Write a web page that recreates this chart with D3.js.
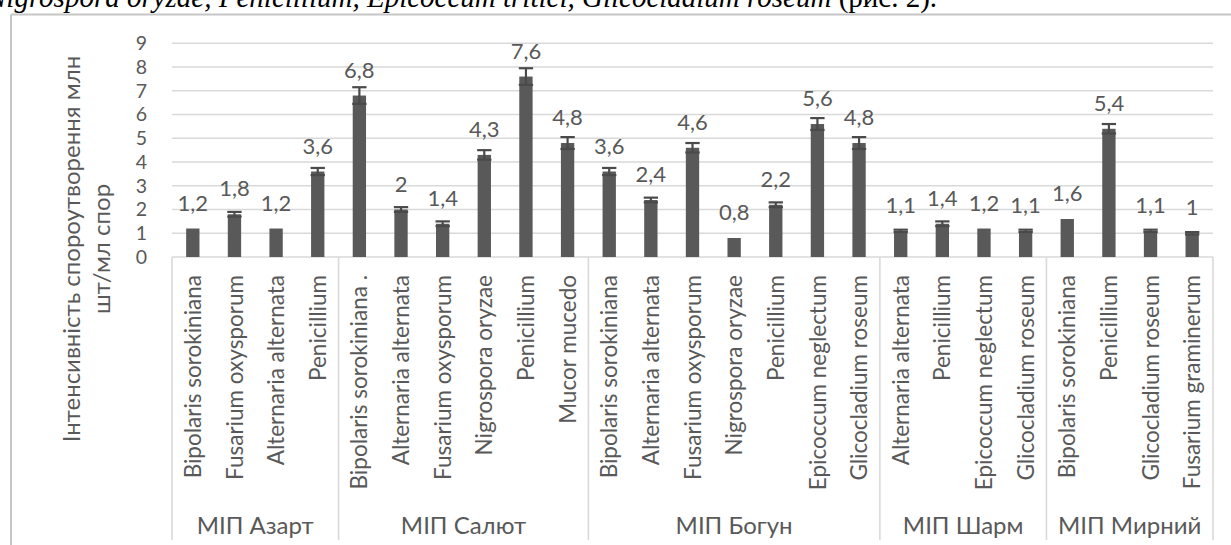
<!DOCTYPE html>
<html>
<head>
<meta charset="utf-8">
<script src="https://cdn.jsdelivr.net/npm/d3@7/dist/d3.min.js"></script>
<style>
  html, body { margin: 0; padding: 0; background: #fff; }
  svg { display: block; }
</style>
</head>
<body>
<svg id="chart" width="1231" height="545"></svg>
<script>
// ---- data ----
const groups = ["МІП Азарт", "МІП Салют", "МІП Богун", "МІП Шарм", "МІП Мирний"];
const groupSizes = [4, 6, 7, 4, 4];
const categories = [
  "Bipolaris sorokiniana", "Fusarium oxysporum", "Alternaria alternata", "Penicillium",
  "Bipolaris sorokiniana .", "Alternaria alternata", "Fusarium oxysporum", "Nigrospora oryzae", "Penicillium", "Mucor mucedo",
  "Bipolaris sorokiniana", "Alternaria alternata", "Fusarium oxysporum", "Nigrospora oryzae", "Penicillium", "Epicoccum neglectum", "Glicocladium roseum",
  "Alternaria alternata", "Penicillium", "Epicoccum neglectum", "Glicocladium roseum",
  "Bipolaris sorokiniana", "Penicillium", "Glicocladium roseum", "Fusarium graminerum"
];
const values = [
  1.2, 1.8, 1.2, 3.6,
  6.8, 2, 1.4, 4.3, 7.6, 4.8,
  3.6, 2.4, 4.6, 0.8, 2.2, 5.6, 4.8,
  1.1, 1.4, 1.2, 1.1,
  1.6, 5.4, 1.1, 1
];
const errors = [
  0, 0.1, 0, 0.15,
  0.35, 0.1, 0.1, 0.2, 0.35, 0.25,
  0.15, 0.1, 0.2, 0, 0.1, 0.25, 0.25,
  0.05, 0.1, 0, 0.05,
  0, 0.2, 0.05, 0.05
];
const yTicks = [0, 1, 2, 3, 4, 5, 6, 7, 8, 9];
const yTitle = ["Інтенсивність спороутворення млн", "шт/мл спор"];
const headerText = "Nigrospora oryzae, Penicillium, Epicoccum tritici, Glicocladium roseum ";
const headerTail = "(рис. 2).";

// ---- layout ----
const svg = d3.select("#chart");
const left = 172, right = 1213, y0 = 257, y9 = 43.3;
const textColor = "#595959";
const barColor = "#595959";
const gridColor = "#d9d9d9";
const font = "Lato, 'Open Sans', sans-serif";

const idx = d3.range(categories.length);
const x = d3.scaleBand().domain(idx).range([left, right]).paddingInner(0.68).paddingOuter(0.34);
const step = x.step();
const y = d3.scaleLinear().domain([0, 9]).range([y0, y9]);

// header text (cropped at top)
const ht = svg.append("text")
  .attr("x", -13).attr("y", 7)
  .attr("font-family", "'Liberation Serif', 'Times New Roman', serif")
  .attr("font-size", 29)
  .attr("fill", "#000");
ht.append("tspan").attr("font-style", "italic").text(headerText);
ht.append("tspan").text(headerTail);

// frame
svg.append("line").attr("x1", 11).attr("x2", 1240).attr("y1", 14.5).attr("y2", 14.5)
  .attr("stroke", "#c6c6c6").attr("stroke-width", 2);
svg.append("line").attr("x1", 11).attr("x2", 11).attr("y1", 14.5).attr("y2", 545)
  .attr("stroke", "#c6c6c6").attr("stroke-width", 2);

// gridlines
svg.append("g").selectAll("line").data(yTicks.filter(t => t > 0)).join("line")
  .attr("x1", left).attr("x2", right)
  .attr("y1", d => y(d)).attr("y2", d => y(d))
  .attr("stroke", gridColor).attr("stroke-width", 1.4);

// y axis (labels only)
const yAxis = d3.axisLeft(y).tickValues(yTicks).tickSize(0).tickPadding(0).tickFormat(d3.format("d"));
const gy = svg.append("g").attr("transform", `translate(147,0)`).call(yAxis);
gy.select(".domain").remove();
gy.selectAll("text").attr("font-family", font).attr("font-size", 19.5).attr("fill", textColor);

// category axis: baseline + separators
svg.append("line").attr("x1", left).attr("x2", right).attr("y1", y0).attr("y2", y0)
  .attr("stroke", gridColor).attr("stroke-width", 1.6);
const bounds = [0];
groupSizes.forEach((s, i) => bounds.push(bounds[i] + s));
const boundX = i => left + i * step;
svg.append("g").selectAll("line").data(bounds).join("line")
  .attr("x1", d => boundX(d)).attr("x2", d => boundX(d))
  .attr("y1", y0).attr("y2", 540)
  .attr("stroke", gridColor).attr("stroke-width", 1.6);

// bars
svg.append("g").selectAll("rect").data(idx).join("rect")
  .attr("x", i => x(i)).attr("width", x.bandwidth())
  .attr("y", i => y(values[i])).attr("height", i => y(0) - y(values[i]))
  .attr("fill", barColor);

// error bars
const eb = svg.append("g").attr("stroke", "#4a4a4a").attr("stroke-width", 2.2);
idx.filter(i => errors[i] > 0).forEach(i => {
  const cx = x(i) + x.bandwidth() / 2;
  const hw = x.bandwidth() / 2 + 0.5;
  const top = y(values[i] + errors[i]), bot = y(values[i] - errors[i]);
  eb.append("line").attr("x1", cx).attr("x2", cx).attr("y1", top).attr("y2", bot);
  eb.append("line").attr("x1", cx - hw).attr("x2", cx + hw).attr("y1", top).attr("y2", top);
  eb.append("line").attr("x1", cx - hw).attr("x2", cx + hw).attr("y1", bot).attr("y2", bot);
});

// data labels
svg.append("g").selectAll("text").data(idx).join("text")
  .attr("x", i => x(i) + x.bandwidth() / 2)
  .attr("y", i => y(values[i]) - 18)
  .attr("text-anchor", "middle")
  .attr("font-family", font).attr("font-size", 22).attr("fill", textColor)
  .text(i => String(values[i]).replace(".", ","));

// category labels (rotated)
svg.append("g").selectAll("text").data(idx).join("text")
  .attr("transform", i => `translate(${x(i) + x.bandwidth() / 2},275) rotate(-90)`)
  .attr("text-anchor", "end")
  .attr("dy", "0.36em")
  .attr("font-family", font).attr("font-size", 22.5).attr("fill", textColor)
  .text(i => categories[i]);

// group labels
svg.append("g").selectAll("text").data(groups).join("text")
  .attr("x", (d, g) => (boundX(bounds[g]) + boundX(bounds[g + 1])) / 2)
  .attr("y", 525)
  .attr("dy", "0.36em")
  .attr("text-anchor", "middle")
  .attr("font-family", font).attr("font-size", 24).attr("fill", textColor)
  .text(d => d);

// y title
const yt = svg.append("g").attr("transform", "translate(0,249) rotate(-90)");
yt.selectAll("text").data(yTitle).join("text")
  .attr("x", 0).attr("y", (d, i) => i === 0 ? 80 : 110)
  .attr("text-anchor", "middle")
  .attr("font-family", font).attr("font-size", 24).attr("fill", textColor)
  .text(d => d);
</script>
</body>
</html>
